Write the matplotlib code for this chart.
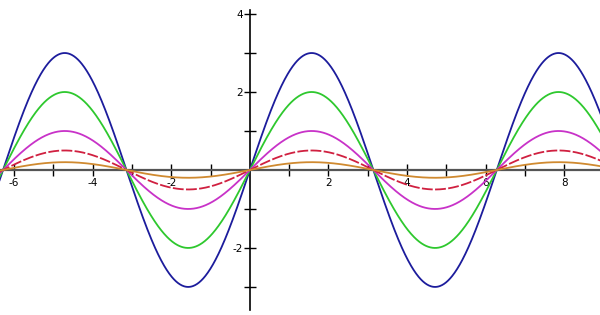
import numpy as np
import matplotlib
matplotlib.use("Agg")
import matplotlib.pyplot as plt

# amplitudes of the sine curves, biggest first
amplitudes = [3, 2, 1, 0.5, 0.2]
colors = ["#1c1c9c", "#2ec82e", "#c832c8", "#d02040", "#d08a30"]
styles = ["-", "-", "-", (0, (6, 1.3)), "-"]

x_major = [-6, -4, -2, 2, 4, 6, 8]
x_labels = ["-6", "-4", "-2", "2", "4", "6", "8"]
y_major = [-2, 2, 4]
y_labels = ["-2", "2", "4"]
x_minor = [-5, -3, -1, 1, 3, 5, 7]
y_minor = [-3, -1, 1, 3]

x = np.linspace(-6.5, 9.0, 1200)

fig = plt.figure(figsize=(6, 3.15), dpi=100)
ax = fig.add_axes([0, 0, 1, 1])

for a, c, ls in zip(amplitudes, colors, styles):
    ax.plot(x, a * np.sin(x), color=c, lw=1.3, ls=ls, zorder=3)

ax.set_xlim(-6.36, 8.91)
ax.set_ylim(-3.72, 4.36)

for s in ["top", "right"]:
    ax.spines[s].set_visible(False)
ax.spines["left"].set_position("zero")
ax.spines["bottom"].set_position("zero")
ax.spines["left"].set_bounds(-3.6, 4.1)
ax.spines["bottom"].set_color("#555555")
ax.spines["bottom"].set_linewidth(1.6)
ax.spines["left"].set_linewidth(1.2)

ax.set_xticks(x_major)
ax.set_xticklabels(x_labels)
ax.set_xticks(x_minor, minor=True)
ax.set_yticks(y_major)
ax.set_yticklabels(y_labels)
ax.set_yticks(y_minor, minor=True)

ax.tick_params(which="both", direction="inout", length=8, width=1, color="black",
               labelsize=7.5, pad=1)
ax.tick_params(axis="x", which="both", pad=2)

plt.savefig("out.png", dpi=100)
